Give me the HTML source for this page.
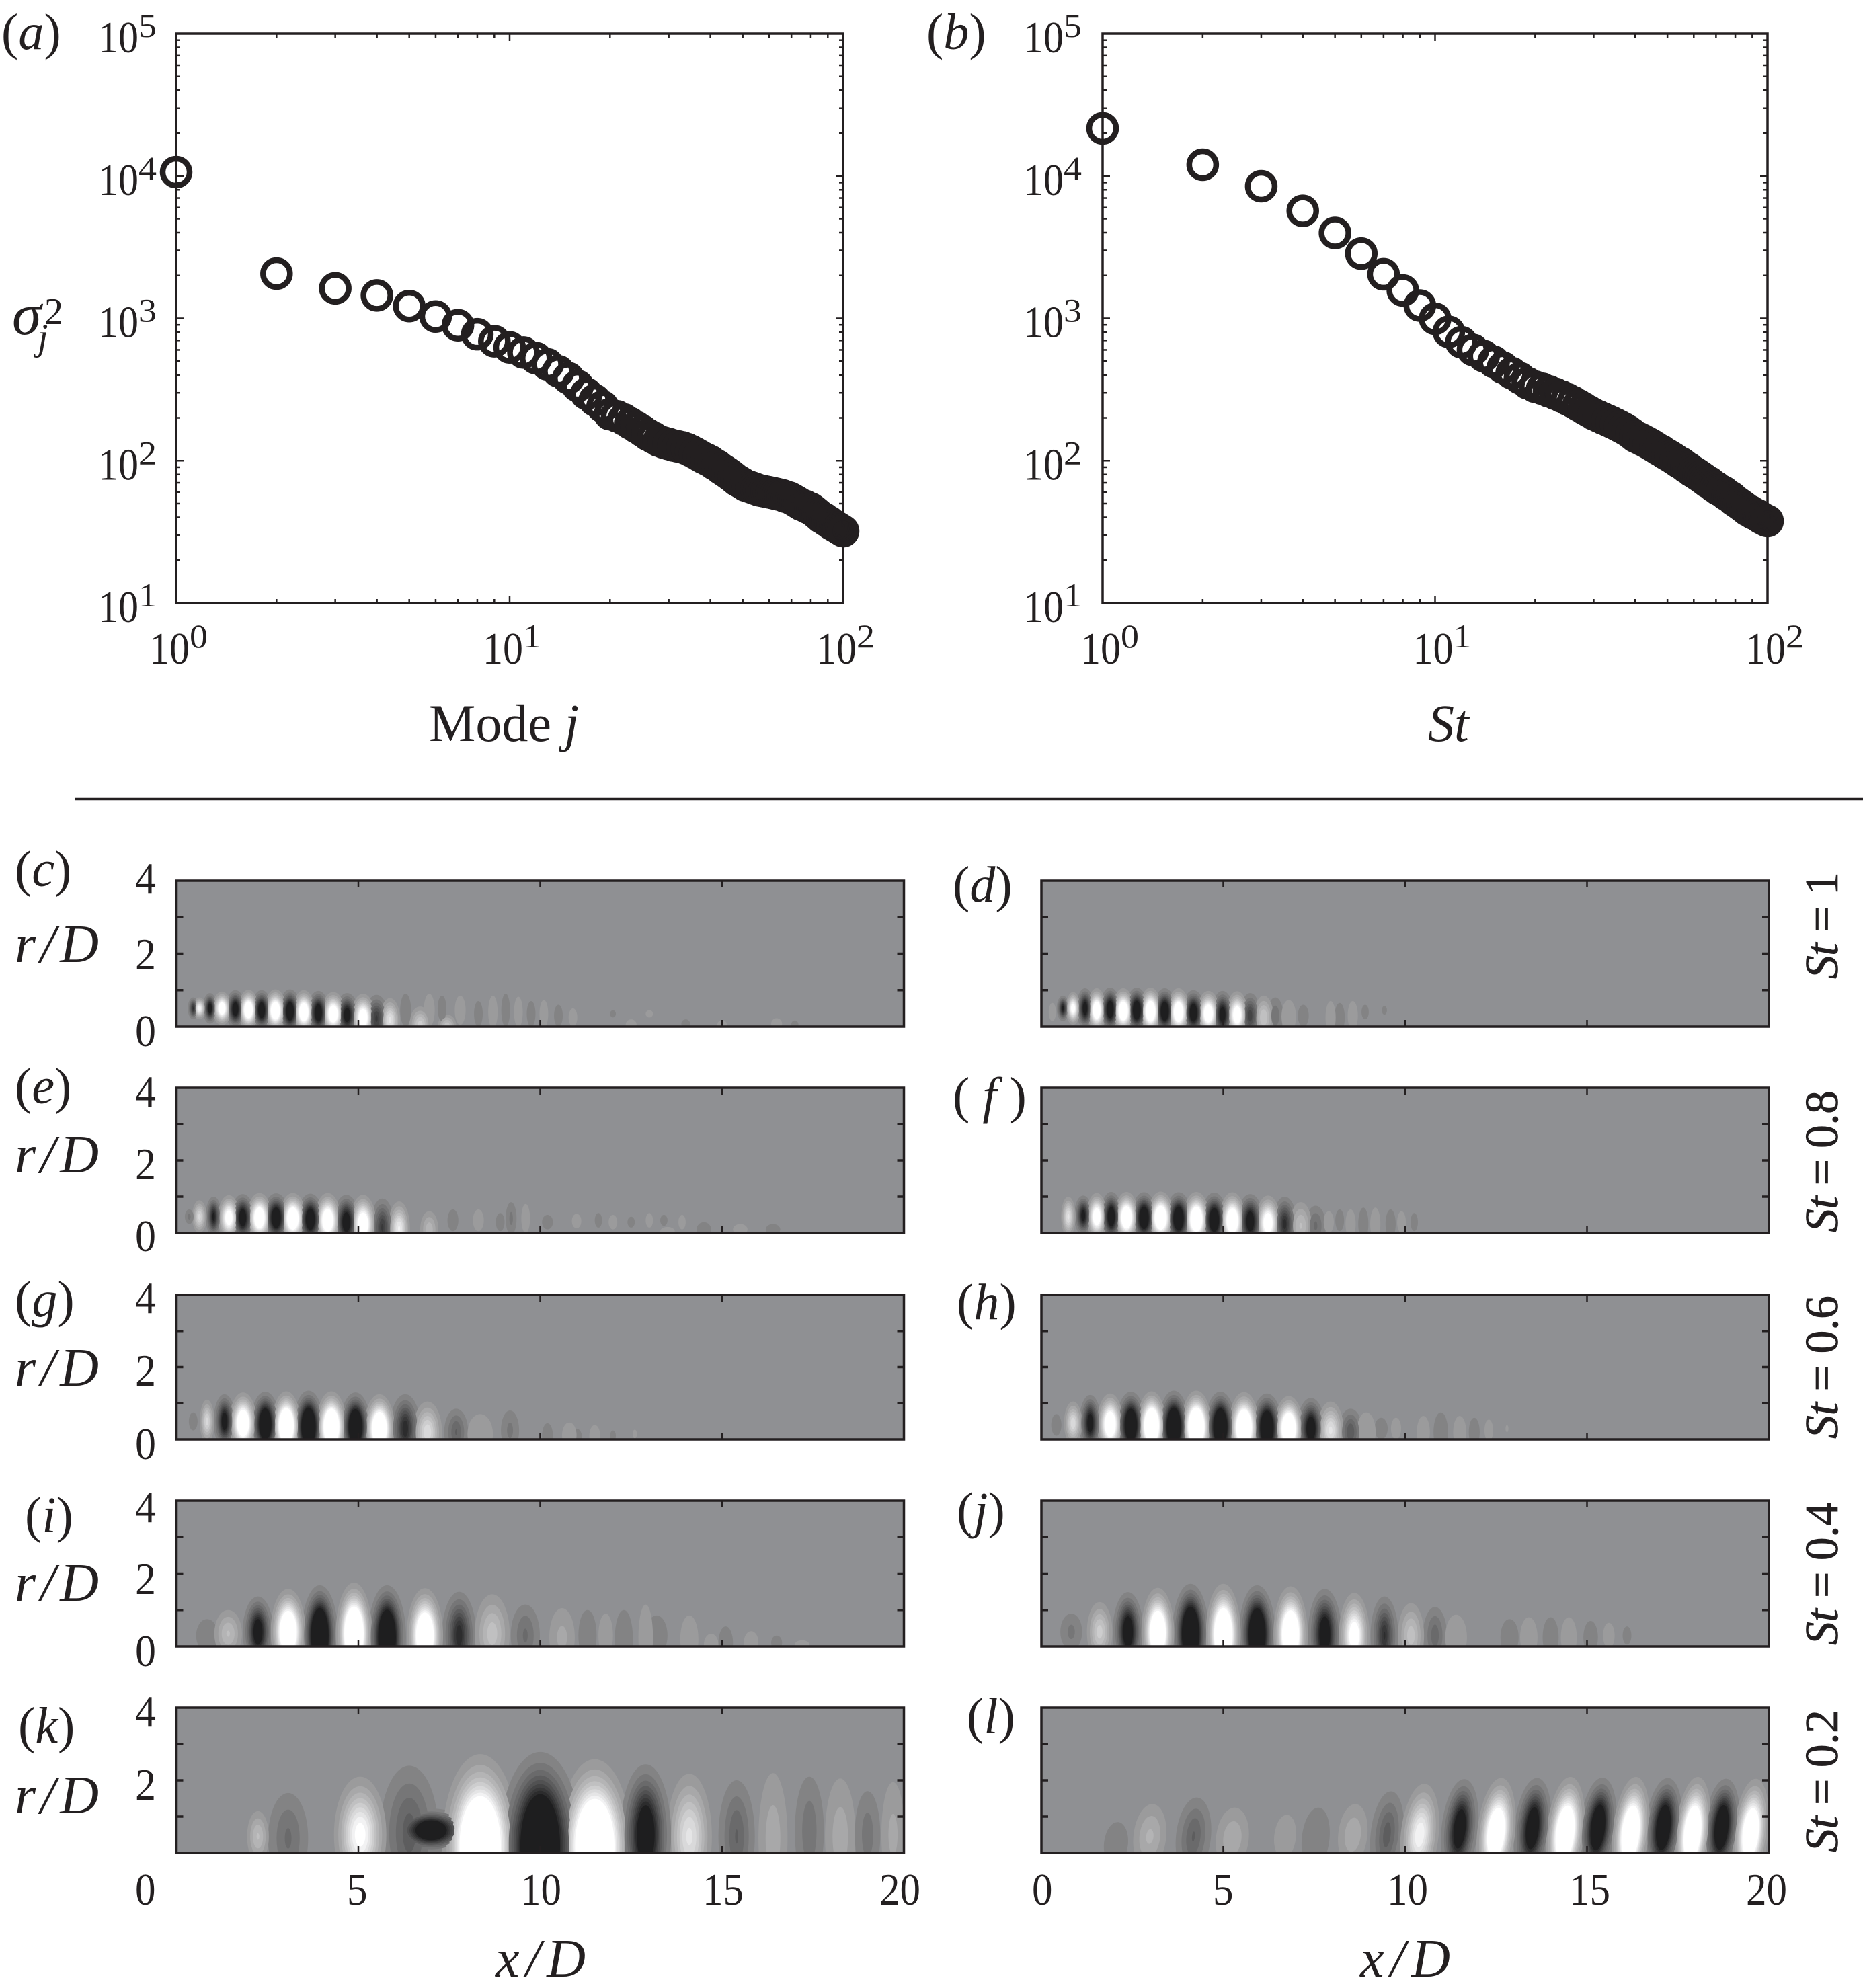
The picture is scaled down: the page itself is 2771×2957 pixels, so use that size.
<!DOCTYPE html>
<html>
<head>
<meta charset="utf-8">
<title>Spectra and mode shapes</title>
<style>
html,body{margin:0;padding:0;background:#fff;}
svg{display:block;}
text{font-family:"Liberation Serif",serif;fill:#231f20;}
.it{font-style:italic;}
.tick{font-size:67px;}
.letter{font-size:76px;}
.rd{font-size:80px;font-style:italic;}
.title{font-size:78px;}
.st{font-size:70px;stroke:#231f20;stroke-width:.7;}
</style>
</head>
<body>
<svg id="fig" xmlns="http://www.w3.org/2000/svg" width="2771" height="2957" viewBox="0 0 2771 2957">
<rect x="0" y="0" width="2771" height="2957" fill="#ffffff"/>
<defs id="defs"></defs>
<line x1="112" y1="1188.5" x2="2771" y2="1188.5" stroke="#231f20" stroke-width="3.5"/>

<text class="letter" x="2" y="73">(<tspan class="it">a</tspan>)</text>
<text class="letter" x="1378" y="73">(<tspan class="it">b</tspan>)</text>
<text class="letter" x="22" y="1318">(<tspan class="it">c</tspan>)</text>
<text class="letter" x="1417" y="1341">(<tspan class="it">d</tspan>)</text>
<text class="letter" x="22" y="1641">(<tspan class="it">e</tspan>)</text>
<text class="letter" x="1417" y="1655">(<tspan class="it"> f</tspan> )</text>
<text class="letter" x="22" y="1958">(<tspan class="it">g</tspan>)</text>
<text class="letter" x="1423" y="1962">(<tspan class="it">h</tspan>)</text>
<text class="letter" x="37" y="2279">(<tspan class="it">i</tspan>)</text>
<text class="letter" x="1423" y="2272">(<tspan class="it">j</tspan>)</text>
<text class="letter" x="27" y="2592">(<tspan class="it">k</tspan>)</text>
<text class="letter" x="1438" y="2578">(<tspan class="it">l</tspan>)</text>

<text class="title" x="638" y="1102">Mode <tspan class="it">j</tspan></text>
<text class="title it" x="2124" y="1102">St</text>
<g>
<text class="it" font-size="88" x="18" y="497">σ</text>
<text class="it" font-size="56" x="56" y="520">j</text>
<text font-size="56" x="66" y="482">2</text>
</g>

<text class="rd" x="22" y="1431" textLength="125">r/D</text>
<text class="rd" x="22" y="1744" textLength="125">r/D</text>
<text class="rd" x="22" y="2061" textLength="125">r/D</text>
<text class="rd" x="22" y="2381" textLength="125">r/D</text>
<text class="rd" x="22" y="2697" textLength="125">r/D</text>
<text class="rd" x="737" y="2940" textLength="134">x/D</text>
<text class="rd" x="2023" y="2940" textLength="134">x/D</text>

<text class="st" transform="translate(2733,1456) rotate(-90)" textLength="159"><tspan class="it">St</tspan> = 1</text>
<text class="st" transform="translate(2733,1833) rotate(-90)" textLength="211"><tspan class="it">St</tspan> = 0.8</text>
<text class="st" transform="translate(2733,2140) rotate(-90)" textLength="213"><tspan class="it">St</tspan> = 0.6</text>
<text class="st" transform="translate(2733,2447) rotate(-90)" textLength="212"><tspan class="it">St</tspan> = 0.4</text>
<text class="st" transform="translate(2733,2755) rotate(-90)" textLength="212"><tspan class="it">St</tspan> = 0.2</text>
</svg>

<script>
// ---------- Spectrum data ----------
const modeEnergy = [10650,2060,1625,1450,1220,1030,895,773,690,625,575,525,475,425,380,335,295,266,240,212,
205,195,183,172,162,152,145,138,134,131,128,126,124,121,117,113,109,105,102,99,
95,92,88,85,82,79,76,73,71,69,67,66,65,64,63,62,61.5,61,60.5,60,
59.5,59,58.5,58,57.5,57,56,55.5,55,54,53,52,51,50,49,48.5,48,47,46.5,46,
45,44,43,42,41,40,39.5,39,38,37.5,37,36,35.5,35,34.5,34,33.5,33,32.5,32];
const stEnergy = [21600,12000,8470,5690,3980,2850,2040,1570,1230,993,804,680,600,543,495,450,412,380,350,331,
320,307,295,283,270,258,245,233,222,212,205,198,192,186,180,174,168,162,155,148,
144,140,136,132,128,124,120,117,113,110,107,104,101,98,96,93,90,88,85,83,
81,79,77,75,73,71,70,68,66,65,63,62,61,60,58,57,56,55,53,52,
51,50,49,48,47,46,45,44.5,44,43,42.5,42,41.5,41,40,39.5,39,38.5,38,37.7];
const xDecades = [0,1,2];
const yDecades = [1,2,3,4,5];
const minorMultipliers = [2,3,4,5,6,7,8,9];

// ---------- Mode-shape lobes: [x/D, r/D, half-width, half-height, signed amplitude] ----------
const lobesC = [[.46,.5,.15,.3,-.9],[.92,.5,.2,.42,-1.3],[1.62,.48,.27,.52,-1.4],[2.34,.45,.28,.55,-1.5],[3.12,.42,.3,.6,-1.6],[3.9,.38,.3,.6,-1.5],[4.69,.32,.32,.6,-1.3],[5.5,.22,.33,.65,-.8],
[.63,.5,.18,.3,1],[1.25,.5,.26,.46,1.4],[1.98,.46,.28,.55,1.6],[2.72,.44,.3,.58,1.6],[3.5,.4,.3,.6,1.6],[4.31,.35,.32,.6,1.5],[5.13,.25,.33,.65,1.4],[5.87,.18,.28,.6,.8],[6.7,.05,.3,.5,.6],[7.44,.03,.25,.3,.5],
[6.3,.45,.15,.45,-.2],[6.95,.45,.15,.45,.17],[7.3,.5,.12,.35,-.16],[7.8,.45,.15,.4,.15],[8.3,.35,.12,.35,-.2],[8.7,.4,.13,.45,.2],[9.05,.45,.12,.45,-.17],[9.4,.4,.12,.42,.2],[9.75,.35,.12,.35,-.17],[10.1,.35,.12,.38,.2],[10.5,.3,.12,.3,-.15],[10.9,.25,.12,.25,.15],
[12,.35,.08,.1,-.15],[13,.35,.1,.1,.14],[12.5,.05,.15,.15,.14],[14,.08,.12,.12,-.14],[15,.05,.13,.13,.14],[16.5,.08,.15,.15,.14],[17,.05,.1,.12,-.14]];
const lobesD = [[.59,.5,.17,.35,-1.1],[1.2,.5,.24,.55,-1.3],[1.89,.47,.28,.6,-1.5],[2.62,.45,.3,.62,-1.6],[3.39,.42,.31,.63,-1.6],[4.18,.38,.31,.62,-1.5],[4.98,.33,.3,.65,-1.3],[5.74,.3,.28,.62,-.75],[6.43,.3,.22,.5,-.3],[7.2,.3,.15,.3,-.18],[8.2,.25,.14,.4,-.18],[8.9,.4,.1,.2,-.17],[9.43,.45,.07,.12,-.15],
[.3,.4,.1,.25,.2],[.87,.5,.2,.45,1.2],[1.52,.45,.26,.6,1.5],[2.25,.43,.3,.62,1.6],[3,.42,.3,.65,1.7],[3.77,.4,.31,.65,1.6],[4.59,.36,.31,.62,1.5],[5.38,.32,.3,.65,1.4],[6.11,.25,.27,.6,.55],[6.8,.28,.2,.45,.22],[7.95,.25,.14,.45,.18],[8.56,.3,.14,.4,.18]];
const lobesE = [[1.02,.45,.22,.55,-1.1],[1.82,.42,.33,.65,-1.4],[2.74,.42,.36,.67,-1.6],[3.68,.38,.36,.7,-1.6],[4.67,.3,.36,.75,-1.4],[5.66,.15,.33,.8,-.8],
[.63,.45,.2,.45,.7],[1.44,.42,.3,.62,1.3],[2.28,.42,.34,.68,1.6],[3.2,.4,.36,.7,1.7],[4.16,.35,.36,.75,1.6],[5.13,.25,.36,.8,1.5],[6.12,.12,.3,.75,.9],[6.95,.1,.25,.5,.4],[.35,.45,.12,.2,-.25],
[7.6,.35,.15,.3,-.2],[8.3,.35,.15,.3,.16],[8.9,.3,.12,.25,-.16],[9.2,.4,.15,.45,-.25],[9.6,.4,.12,.4,.2],[10.2,.3,.15,.2,-.16],[11,.33,.13,.2,.15],[11.6,.35,.1,.2,-.16],[12,.3,.12,.2,.15],[12.5,.3,.1,.15,-.15],[13,.35,.1,.2,.15],[13.4,.35,.1,.15,-.15],[13.9,.3,.1,.2,.15],[13.5,.05,.2,.12,.14],[14.5,.1,.2,.2,-.14],[15.5,.1,.2,.15,.14],[16.4,.1,.2,.15,-.14]];
const lobesF = [[1.15,.48,.25,.55,-1.2],[1.92,.45,.3,.68,-1.5],[2.82,.42,.35,.7,-1.7],[3.77,.4,.36,.72,-1.8],[4.75,.36,.36,.75,-1.7],[5.74,.32,.36,.75,-1.4],[6.69,.25,.33,.75,-.95],[7.54,.2,.28,.55,-.35],[8.2,.35,.12,.3,-.18],[8.85,.25,.14,.45,-.18],[9.6,.25,.14,.4,-.17],[10.25,.3,.1,.25,-.15],
[.74,.45,.2,.55,.8],[1.52,.45,.28,.65,1.4],[2.34,.43,.33,.7,1.7],[3.28,.42,.36,.72,1.8],[4.26,.38,.36,.75,1.8],[5.25,.34,.36,.78,1.7],[6.23,.28,.34,.75,1.4],[7.13,.2,.3,.65,.45],[7.9,.3,.14,.3,.18],[8.5,.25,.14,.4,.16],[9.18,.25,.14,.45,.18],[9.9,.3,.12,.3,.15]];
const lobesG = [[.46,.5,.12,.25,-.2],[1.32,.5,.3,.75,-1.3],[2.44,.42,.4,.9,-2],[3.63,.35,.42,1,-2.4],[4.92,.35,.42,.95,-2.2],[6.29,.3,.42,.95,-1],[7.69,.2,.33,.65,-.45],[9.17,.25,.25,.55,-.25],[10.2,.1,.15,.35,-.18],[11,.05,.15,.25,-.16],[12,.1,.08,.15,-.14],
[.84,.5,.2,.6,.7],[1.83,.45,.38,.85,1.7],[3.02,.38,.4,.95,2.2],[4.26,.35,.42,.98,2.2],[5.58,.3,.42,.95,2],[6.9,.2,.4,.85,.75],[8.35,.15,.35,.55,.2],[10.8,.12,.2,.35,.16],[11.5,.1,.15,.3,.15],[12.6,.15,.06,.12,.14]];
const lobesH = [[.41,.4,.14,.3,-.2],[1.34,.45,.3,.78,-1.3],[2.46,.4,.4,.92,-2],[3.64,.35,.42,1,-2.4],[4.92,.35,.42,.97,-2.3],[6.2,.32,.42,.95,-2.1],[7.41,.3,.38,.85,-1.5],[8.5,.2,.33,.65,-.55],[9.34,.3,.18,.3,-.18],[10.98,.2,.2,.55,-.22],[11.9,.2,.15,.4,-.16],
[.87,.45,.25,.6,.75],[1.89,.42,.36,.85,1.6],[3.03,.38,.4,.95,2.2],[4.26,.35,.42,1,2.4],[5.57,.33,.42,.98,2.2],[6.8,.3,.4,.9,2],[7.95,.25,.36,.8,.8],[8.93,.2,.26,.55,.22],[9.75,.3,.14,.3,.15],[10.5,.2,.18,.45,.17],[11.5,.2,.18,.45,.17],[12.3,.25,.12,.3,.15],[12.8,.3,.04,.1,.14]];
const lobesI = [[.84,.3,.3,.45,-.15],[2.24,.4,.42,.97,-1.4],[3.94,.3,.5,1.38,-2.6],[5.79,.25,.52,1.43,-2.4],[7.77,.3,.47,1.2,-1],[9.59,.3,.4,.85,-.35],[11.3,.3,.25,.7,-.2],[12.3,.2,.25,.8,-.22],[13.2,.3,.3,.55,-.22],[15.1,.1,.2,.45,-.17],[16.5,.1,.15,.2,-.14],
[1.42,.35,.38,.65,.45],[3.07,.4,.48,1.18,2],[4.88,.35,.5,1.4,2.4],[6.83,.3,.5,1.3,2],[8.68,.35,.48,1.08,.5],[10.6,.25,.35,.8,.25],[11.8,.3,.2,.6,.2],[12.9,.25,.2,.9,.2],[14.1,.2,.25,.65,.2],[14.7,.05,.2,.3,.15],[15.8,.12,.2,.3,.16],[17.2,.05,.2,.12,.14]];
const lobesJ = [[.82,.4,.3,.5,-.25],[2.38,.4,.42,1.09,-1.5],[4.1,.35,.5,1.37,-2.5],[5.93,.33,.5,1.35,-2.4],[7.79,.33,.46,1.25,-1.5],[9.43,.3,.38,1.07,-.9],[10.82,.3,.33,.78,-.4],[12.87,.25,.25,.5,-.2],[14,.25,.22,.55,-.2],[15.1,.25,.2,.45,-.2],[16.1,.3,.12,.25,-.15],
[1.6,.4,.35,.82,.6],[3.2,.38,.45,1.23,2],[5,.33,.48,1.39,2.3],[6.85,.33,.47,1.32,2.1],[8.6,.3,.42,1.17,1.3],[10.16,.3,.36,.89,.5],[11.4,.25,.3,.62,.22],[13.4,.25,.24,.55,.2],[14.5,.25,.22,.55,.2],[15.6,.3,.16,.35,.15]];
const lobesK = [[3.07,.4,.55,1.25,-.35],[6.4,.55,.8,1.85,-.5],[7,.62,1.1,.6,-1.8],[6.3,.2,.4,.3,-.45],
[2.24,.45,.3,.7,.45],[5.05,.5,.72,1.6,1.1],[8.35,.2,1.05,2.52,2.5],[11.5,.2,1,2.38,2.5],[14.1,.45,.62,1.73,.8],[16.4,.4,.4,1.8,.28],[18.25,.45,.42,1.6,.28],[19.7,.5,.32,1.45,.25],
[10,.2,1.12,2.58,-2.6],[12.9,.5,.7,1.94,-1.6],[15.4,.45,.5,1.55,-.45],[17.4,.6,.4,1.5,-.3],[19,.5,.35,1.2,-.28]];
const lobesL = [[2.05,.25,.33,.6,-.15],[4.18,.45,.48,1.08,-.45],[7.54,.4,.38,.85,-.17],[9.5,.5,.45,1.2,-.5],[11.5,.66,.5,1.38,-1.5],[13.5,.68,.5,1.39,-1.6],[15.3,.7,.5,1.38,-1.8],[17.1,.7,.5,1.37,-1.8],[18.7,.7,.48,1.35,-1.8],
[2.98,.45,.45,.9,.35],[5.25,.4,.45,.85,.3],[6.7,.45,.3,.6,.15],[8.56,.5,.4,.85,.3],[10.4,.5,.52,1.41,1],[12.5,.55,.52,1.52,1.8],[14.4,.55,.52,1.55,2],[16.2,.55,.5,1.55,2],[17.9,.55,.48,1.55,2],[19.5,.55,.48,1.5,1.8]];

const contourLevels = [.11,.22,.33,.44,.55,.66,.77,.88,1];
const heatTickX = [5,10,15];
const heatTickR = [1,2,3];

// ---------- Helpers ----------
const SVGNS = 'http://www.w3.org/2000/svg';
const fig = document.getElementById('fig');
const INK = '#231f20';
function mk(tag, attrs, parent){
  const el = document.createElementNS(SVGNS, tag);
  for (const k in attrs) el.setAttribute(k, attrs[k]);
  (parent || fig).appendChild(el);
  return el;
}
function line(x1,y1,x2,y2,w,parent){
  return mk('line',{x1:x1,y1:y1,x2:x2,y2:y2,stroke:INK,'stroke-width':w},parent);
}

// ---------- Scatter panels ----------
function drawSpectrum(name, values, box, xLabelShift, yLabelX){
  const xScale = v => box.left + Math.log10(v)/2*(box.right-box.left);
  const yScale = v => box.bottom - (Math.log10(v)-1)/4*(box.bottom-box.top);
  const g = mk('g',{});
  
  
  const frame = mk('rect',{x:box.left,y:box.top,width:box.right-box.left,height:box.bottom-box.top,fill:'none',stroke:INK,'stroke-width':3.5},g);
  
  
  xDecades.forEach(d => {
    const base = Math.pow(10,d);
    const x = xScale(base);
    if (d>0 && d<2){ line(x,box.top,x,box.top+11,2.5,g); line(x,box.bottom,x,box.bottom-11,2.5,g); }
    if (d<2) minorMultipliers.forEach(m => {
      const xm = xScale(base*m);
      line(xm,box.top,xm,box.top+6,2.5,g);
      line(xm,box.bottom,xm,box.bottom-6,2.5,g);
    });
    const t = mk('text',{class:'tick',x:x+xLabelShift,y:987,textLength:60,lengthAdjust:'spacingAndGlyphs'},g);
    
    
    t.textContent = '10';
    const s = mk('text',{x:x+xLabelShift+60,y:963,'font-size':50,textLength:27,lengthAdjust:'spacingAndGlyphs'},g);
    
    
    s.textContent = d;
  });
  yDecades.forEach(d => {
    const base = Math.pow(10,d);
    const y = yScale(base);
    if (d>1 && d<5){ line(box.left,y,box.left+11,y,2.5,g); line(box.right,y,box.right-11,y,2.5,g); }
    if (d<5) minorMultipliers.forEach(m => {
      const ym = yScale(base*m);
      line(box.left,ym,box.left+6,ym,2.5,g);
      line(box.right,ym,box.right-6,ym,2.5,g);
    });
    const t = mk('text',{class:'tick',x:yLabelX,y:y+28,textLength:60,lengthAdjust:'spacingAndGlyphs'},g);
    
    
    t.textContent = '10';
    const s = mk('text',{x:yLabelX+60,y:y+5,'font-size':50,textLength:27,lengthAdjust:'spacingAndGlyphs'},g);
    
    
    s.textContent = d;
  });
  values.forEach((v,i) => {
    const c = mk('circle',{cx:xScale(i+1),cy:yScale(v),r:20,fill:'none',stroke:INK,'stroke-width':8.5},g);
    
    
  });
}
drawSpectrum('mode-spectrum', modeEnergy, {left:262,right:1254,top:50,bottom:897}, -40, 146);
drawSpectrum('st-spectrum', stEnergy, {left:1640,right:2629,top:50,bottom:897}, -33, 1522);

// ---------- Heatmap panels ----------
function drawHeat(id, lobes, left, top, bottom, tilt, yLabels, xLabels){
  const right = left + 1082;
  const xScale = v => left + v/20*(right-left);
  const rScale = v => bottom - v/4*(bottom-top);
  const unitX = (right-left)/20, unitR = (bottom-top)/4;
  const clip = mk('clipPath',{id:'clip-'+id},document.getElementById('defs'));
  mk('rect',{x:left,y:top,width:right-left,height:bottom-top},clip);
  const g = mk('g',{});
  
  
  const field = mk('g',{'clip-path':'url(#clip-'+id+')'},g);
  const bg = mk('rect',{x:left,y:top,width:right-left,height:bottom-top,fill:'#8f9093'},field);
  
  
  contourLevels.forEach(v => {
    lobes.forEach(l => {
      const A = Math.abs(l[4]);
      if (A <= v) return;
      const s = Math.sqrt(Math.log(A/v)/Math.log(A/contourLevels[0]));
      const sign = l[4] > 0 ? 1 : -1;
      const sx = sign < 0 ? Math.pow(s,1.2) : s;
      const level = sign > 0 ? Math.round(143+112*v) : Math.round(143-113*v);
      const cx = xScale(l[0]), cy = rScale(l[1]);
      const e = mk('ellipse',{cx:cx,cy:cy,rx:l[2]*unitX*sx,ry:l[3]*unitR*s,fill:'rgb('+level+','+level+','+(level+1)+')'},field);
      if (tilt) e.setAttribute('transform','rotate('+tilt+' '+cx+' '+cy+')');
      
      
    });
  });
  const frame = mk('rect',{x:left,y:top,width:right-left,height:bottom-top,fill:'none',stroke:INK,'stroke-width':3.5},g);
  
  
  heatTickX.forEach(v => {
    const x = xScale(v);
    line(x,top,x,top+10,2.5,g);
    line(x,bottom,x,bottom-10,2.5,g);
  });
  heatTickR.forEach(v => {
    const y = rScale(v);
    line(left,y,left+10,y,3.5,g);
    line(right,y,right-10,y,3.5,g);
  });
  yLabels.forEach(p => {
    const t = mk('text',{class:'tick',x:201,y:p[1],textLength:31,lengthAdjust:'spacingAndGlyphs'},g);
    
    
    t.textContent = p[0];
  });
  xLabels.forEach(p => {
    const t = mk('text',{class:'tick',x:p[1],y:2833,textLength:p[0].length*30.5,lengthAdjust:'spacingAndGlyphs'},g);
    
    
    t.textContent = p[0];
  });
}
drawHeat('c', lobesC, 262.5, 1310, 1527, 0, [['4',1329],['2',1442],['0',1556]], []);
drawHeat('d', lobesD, 1549, 1310, 1527, 0, [], []);
drawHeat('e', lobesE, 262.5, 1618, 1834, 0, [['4',1646],['2',1754],['0',1861]], []);
drawHeat('f', lobesF, 1549, 1618, 1834, 0, [], []);
drawHeat('g', lobesG, 262.5, 1926, 2141, 0, [['4',1953],['2',2061],['0',2170]], []);
drawHeat('h', lobesH, 1549, 1926, 2141, 0, [], []);
drawHeat('i', lobesI, 262.5, 2232, 2449, 0, [['4',2264],['2',2371],['0',2478]], []);
drawHeat('j', lobesJ, 1549, 2232, 2449, 0, [], []);
drawHeat('k', lobesK, 262.5, 2540, 2756, 0, [['4',2568],['2',2677]], [['0',201],['5',516],['10',774],['15',1045],['20',1308]]);
drawHeat('l', lobesL, 1549, 2540, 2756, 6, [], [['0',1535],['5',1804],['10',2063],['15',2334],['20',2597]]);
</script>
</body>
</html>
